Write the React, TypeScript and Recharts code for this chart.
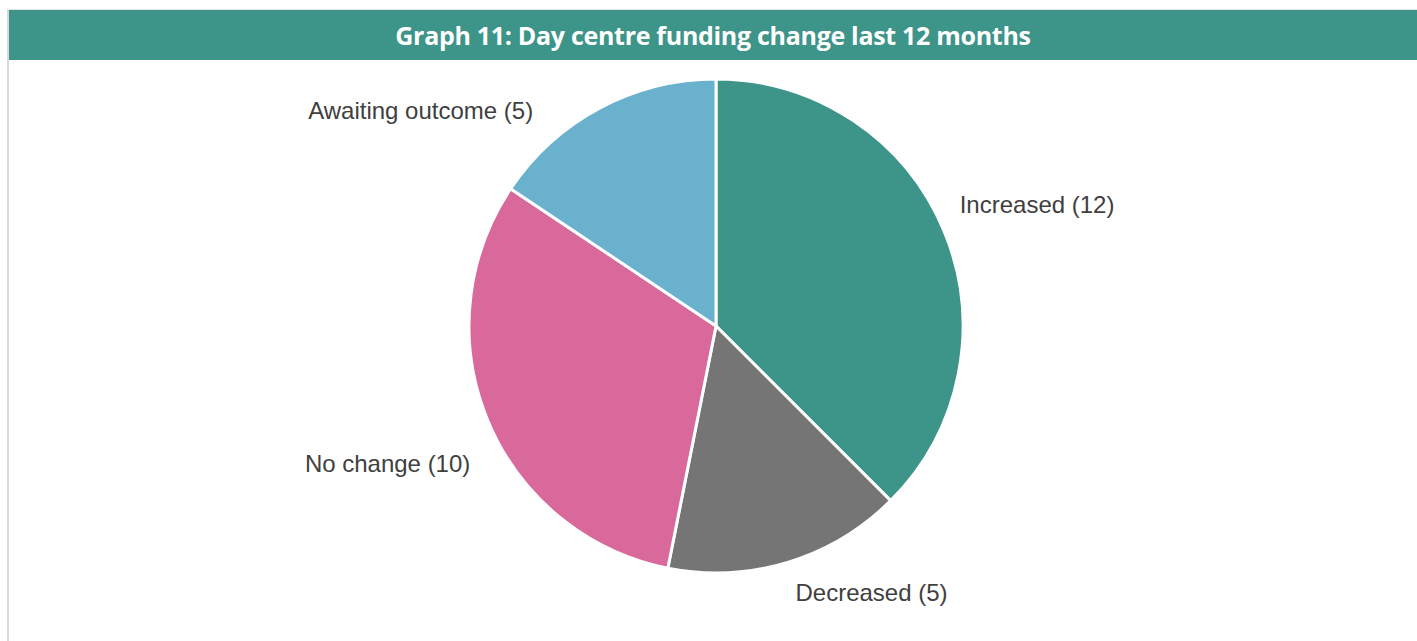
import React from 'react';
import { PieChart, Pie, Cell } from 'recharts';

const categories = ['Increased', 'Decreased', 'No change', 'Awaiting outcome'];
const counts = [12, 5, 10, 5];
const colors = ['#3D9489', '#757575', '#D8699A', '#6AB1CE'];

const data = categories.map((name, i) => ({ name, value: counts[i] }));

// label nudges (px) from the default outside-label point, per slice index
const NUDGE: [number, number][] = [
  [-3, -19],
  [2, 11],
  [1, 35],
  [-57, 20],
];

const RAD = Math.PI / 180;

const renderLabel = (props: any) => {
  const { cx, cy, midAngle, outerRadius, index, name, value } = props;
  const r = outerRadius + 20;
  const cos = Math.cos(-midAngle * RAD);
  const sin = Math.sin(-midAngle * RAD);
  const [dx, dy] = NUDGE[index] || [0, 0];
  const x = cx + r * cos + dx;
  const y = cy + r * sin + dy;
  return (
    <text
      x={x}
      y={y}
      textAnchor={cos >= 0 ? 'start' : 'end'}
      dominantBaseline="central"
      fill="#404040"
      fontSize={24}
      fontFamily="'Liberation Sans', Arial, sans-serif"
    >
      {`${name} (${value})`}
    </text>
  );
};

export default function App() {
  return (
    <div
      style={{
        position: 'absolute',
        left: 7,
        top: 9,
        width: 1410,
        height: 632,
        borderLeft: '2px solid #d9d9d9',
        borderTop: '1px solid #e3e3e3',
        background: '#fff',
        boxSizing: 'border-box',
      }}
    >
      <div
        style={{
          height: 50,
          background: '#3D9489',
          color: '#fff',
          fontFamily: "'Open Sans', sans-serif",
          fontWeight: 700,
          fontSize: 25,
          display: 'flex',
          alignItems: 'center',
          justifyContent: 'center',
          letterSpacing: -0.3,
        }}
      >
        Graph 11: Day centre funding change last 12 months
      </div>
      <PieChart width={1408} height={581}>
        <Pie
          data={data}
          dataKey="value"
          nameKey="name"
          cx={702}
          cy={261}
          outerRadius={247}
          startAngle={90}
          endAngle={-270}
          stroke="#ffffff"
          strokeWidth={3}
          label={renderLabel}
          labelLine={false}
          isAnimationActive={false}
        >
          {data.map((d, i) => (
            <Cell key={d.name} fill={colors[i]} />
          ))}
        </Pie>
      </PieChart>
    </div>
  );
}
